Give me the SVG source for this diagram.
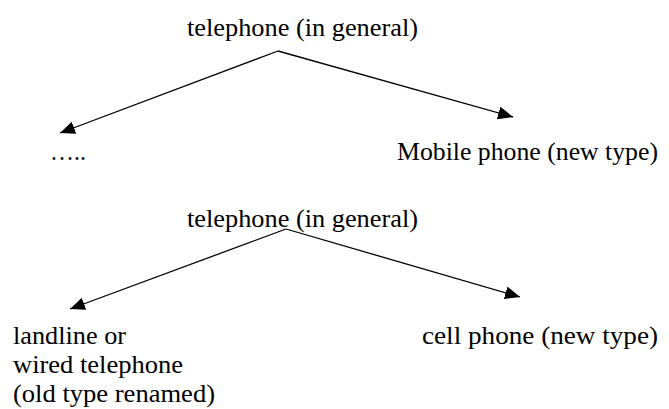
<svg xmlns="http://www.w3.org/2000/svg" width="669" height="409" viewBox="0 0 669 409">
<defs>
<style>
text{font-family:"Liberation Serif","Times New Roman",serif;font-size:25px;fill:#000}
.c{stroke:#000;stroke-width:1.3;fill:none;marker-end:url(#ah)}
</style>
<marker id="ah" markerUnits="userSpaceOnUse" markerWidth="16" markerHeight="14" refX="15" refY="6.5" orient="auto">
<path d="M0,0 L15,6.5 L0,13 z" fill="#000"/>
</marker>
</defs>
<rect width="669" height="409" fill="#fff"/>
<g id="connectors">
<line class="c" x1="278" y1="51" x2="60" y2="133"/>
<line class="c" x1="278" y1="51" x2="513" y2="117"/>
<line class="c" x1="286" y1="229" x2="70" y2="309"/>
<line class="c" x1="286" y1="229" x2="520" y2="297"/>
</g>
<g id="root1"><text x="187" y="36" textLength="231" lengthAdjust="spacingAndGlyphs">telephone (in general)</text></g>
<g id="dots"><text x="50" y="160" textLength="36" lengthAdjust="spacingAndGlyphs">…..</text></g>
<g id="mobile"><text x="397" y="160" textLength="261" lengthAdjust="spacingAndGlyphs">Mobile phone (new type)</text></g>
<g id="root2"><text x="187" y="227" textLength="231" lengthAdjust="spacingAndGlyphs">telephone (in general)</text></g>
<g id="landline"><text x="13" y="344" textLength="113" lengthAdjust="spacingAndGlyphs">landline or</text><text x="13" y="373" textLength="170" lengthAdjust="spacingAndGlyphs">wired telephone</text><text x="13" y="402" textLength="202" lengthAdjust="spacingAndGlyphs">(old type renamed)</text></g>
<g id="cell"><text x="422" y="344" textLength="236" lengthAdjust="spacingAndGlyphs">cell phone (new type)</text></g>
</svg>
